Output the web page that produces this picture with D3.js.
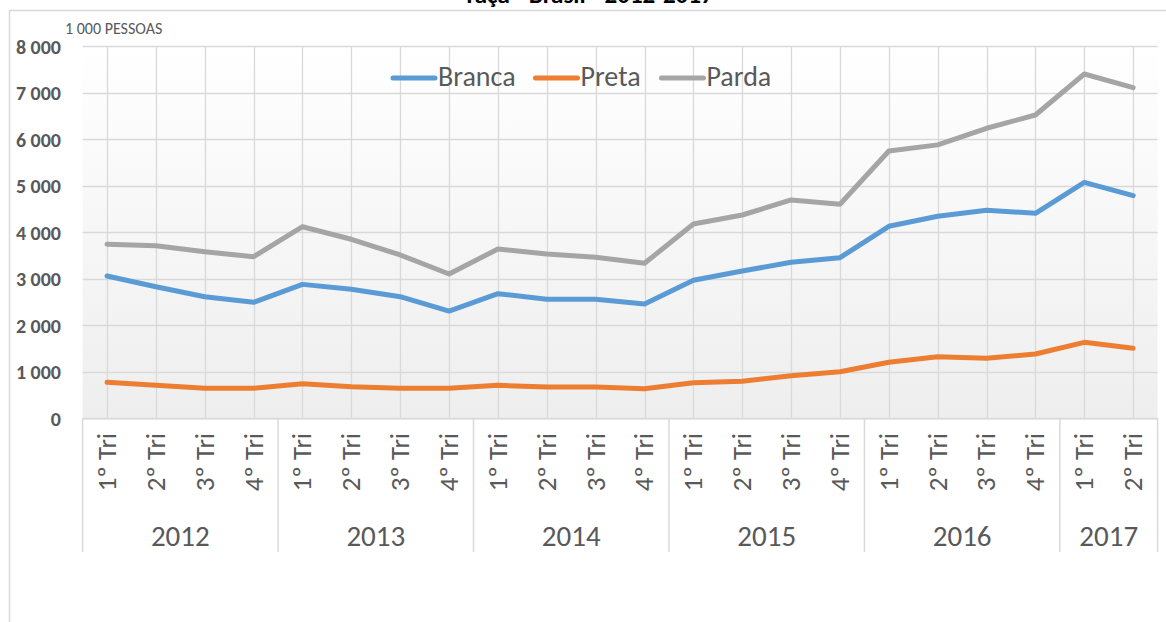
<!DOCTYPE html>
<html><head><meta charset="utf-8">
<script src="https://cdn.jsdelivr.net/npm/d3@7"></script>
<style>
html,body{margin:0;padding:0;background:#fff;}
svg{display:block;font-family:Carlito, Calibri, Lato, sans-serif;}
</style></head>
<body><svg id="c" width="1166" height="622"></svg>
<script>
const quarters = ["1º Tri","2º Tri","3º Tri","4º Tri","1º Tri","2º Tri","3º Tri","4º Tri","1º Tri","2º Tri","3º Tri","4º Tri","1º Tri","2º Tri","3º Tri","4º Tri","1º Tri","2º Tri","3º Tri","4º Tri","1º Tri","2º Tri"];
const years = ["2012","2013","2014","2015","2016","2017"];
const yearCounts = [4,4,4,4,4,2];
const branca = [3060,2830,2615,2495,2880,2775,2615,2307,2680,2559,2559,2458,2968,3168,3355,3454,4129,4344,4473,4409,5075,4787];
const preta  = [774,710,645,645,744,680,645,645,710,673,673,637,766,796,916,1002,1204,1325,1290,1383,1634,1505];
const parda  = [3742,3712,3583,3475,4120,3850,3512,3103,3641,3533,3462,3333,4178,4372,4695,4602,5748,5880,6237,6523,7404,7110];
const seriesNames = ["Branca","Preta","Parda"];
const yTicks = [0,1000,2000,3000,4000,5000,6000,7000,8000];
const title = "raça - Brasil - 2012-2017";
const unitLabel = "1 000 PESSOAS";

const colors = {Branca:"#5b9bd5", Preta:"#ed7d31", Parda:"#a5a5a5"};
const seriesData = {Branca:branca, Preta:preta, Parda:parda};
const txt = "#595959", grid = "#d9d9d9";

const svg = d3.select("#c");
const L = 82.6, R = 1157.6, T = 46.3, B = 418.3;
const idx = d3.range(quarters.length);
const x = d3.scaleBand().domain(idx).range([L, R]);
const xc = i => x(i) + x.bandwidth()/2;
const y = d3.scaleLinear().domain([0, 8000]).range([B, T]);

// gradient
const defs = svg.append("defs");
const g = defs.append("linearGradient").attr("id","bg").attr("x1",0).attr("y1",0).attr("x2",0).attr("y2",1);
g.append("stop").attr("offset","0%").attr("stop-color","#ffffff");
g.append("stop").attr("offset","100%").attr("stop-color","#eeeeee");

// outer frame
svg.append("line").attr("x1",9).attr("x2",1166).attr("y1",10.5).attr("y2",10.5).attr("stroke",grid).attr("stroke-width",1.5);
svg.append("line").attr("x1",9.5).attr("x2",9.5).attr("y1",10).attr("y2",622).attr("stroke",grid).attr("stroke-width",1.5);

// title (cut off at the top edge, as in the reference)
svg.append("text").attr("x",590).attr("y",2.5).attr("text-anchor","middle").attr("font-weight","bold").attr("font-size",25).attr("fill","#000").text(title);

svg.append("rect").attr("x",L).attr("y",T).attr("width",R-L).attr("height",B-T).attr("fill","url(#bg)");

// horizontal grid
svg.append("g").selectAll("line").data(yTicks).join("line")
  .attr("x1",L).attr("x2",R).attr("y1",d=>Math.round(y(d))+0.5).attr("y2",d=>Math.round(y(d))+0.5)
  .attr("stroke",grid).attr("stroke-width",1.3);
// vertical grid
svg.append("g").selectAll("line").data(idx).join("line")
  .attr("x1",d=>Math.round(xc(d))+0.5).attr("x2",d=>Math.round(xc(d))+0.5).attr("y1",T).attr("y2",B)
  .attr("stroke",grid).attr("stroke-width",1.3);

// y axis labels
const yAxis = d3.axisLeft(y).tickValues(yTicks).tickSize(0).tickPadding(0)
  .tickFormat(d => d3.format(",")(d).replace(/,/g," "));
const ya = svg.append("g").attr("transform","translate(61,0)").call(yAxis);
ya.select(".domain").remove();
ya.selectAll("text").attr("fill",txt).attr("font-size",20).attr("font-weight","bold").attr("font-family","Carlito, Calibri, Lato, sans-serif").attr("dy","0.35em");

svg.append("text").attr("x",65).attr("y",34).attr("fill",txt).attr("font-size",16).text(unitLabel);

// x axis: baseline and categories
svg.append("line").attr("x1",L).attr("x2",R).attr("y1",B+0.5).attr("y2",B+0.5).attr("stroke",grid).attr("stroke-width",1.5);
svg.append("g").selectAll("text").data(idx).join("text")
  .attr("transform",d=>`translate(${xc(d)},433) rotate(-90)`)
  .attr("text-anchor","end").attr("dy","0.33em")
  .attr("fill",txt).attr("font-size",27).text(d=>quarters[d]);

// year groups
let start = 0;
const groups = years.map((yr,k)=>{ const s=start; start+=yearCounts[k]; return {yr, s, e:start}; });
const bounds = [0].concat(groups.map(gr=>gr.e));
svg.append("g").selectAll("line").data(bounds).join("line")
  .attr("x1",d=> d<quarters.length ? x(d) : R).attr("x2",d=> d<quarters.length ? x(d) : R)
  .attr("y1",B).attr("y2",552).attr("stroke",grid).attr("stroke-width",1.5);
svg.append("g").selectAll("text").data(groups).join("text")
  .attr("x",d=>((d.e<quarters.length? x(d.e):R) + x(d.s))/2).attr("y",546)
  .attr("text-anchor","middle").attr("fill",txt).attr("font-size",29).text(d=>d.yr);

// lines
const line = d3.line().x((d,i)=>xc(i)).y(d=>y(d));
seriesNames.forEach(n=>{
  svg.append("path").datum(seriesData[n]).attr("d",line).attr("fill","none")
    .attr("stroke",colors[n]).attr("stroke-width",5).attr("stroke-linecap","round").attr("stroke-linejoin","round");
});

// legend
const legX = [393, 535.5, 661.5];
const lg = svg.append("g").selectAll("g").data(seriesNames).join("g")
  .attr("transform",(d,i)=>`translate(${legX[i]},78)`);
lg.append("line").attr("x1",0).attr("x2",42).attr("stroke",d=>colors[d]).attr("stroke-width",5).attr("stroke-linecap","round");
lg.append("text").attr("x",45).attr("y",8).attr("fill",txt).attr("font-size",28).text(d=>d);
</script></body></html>
